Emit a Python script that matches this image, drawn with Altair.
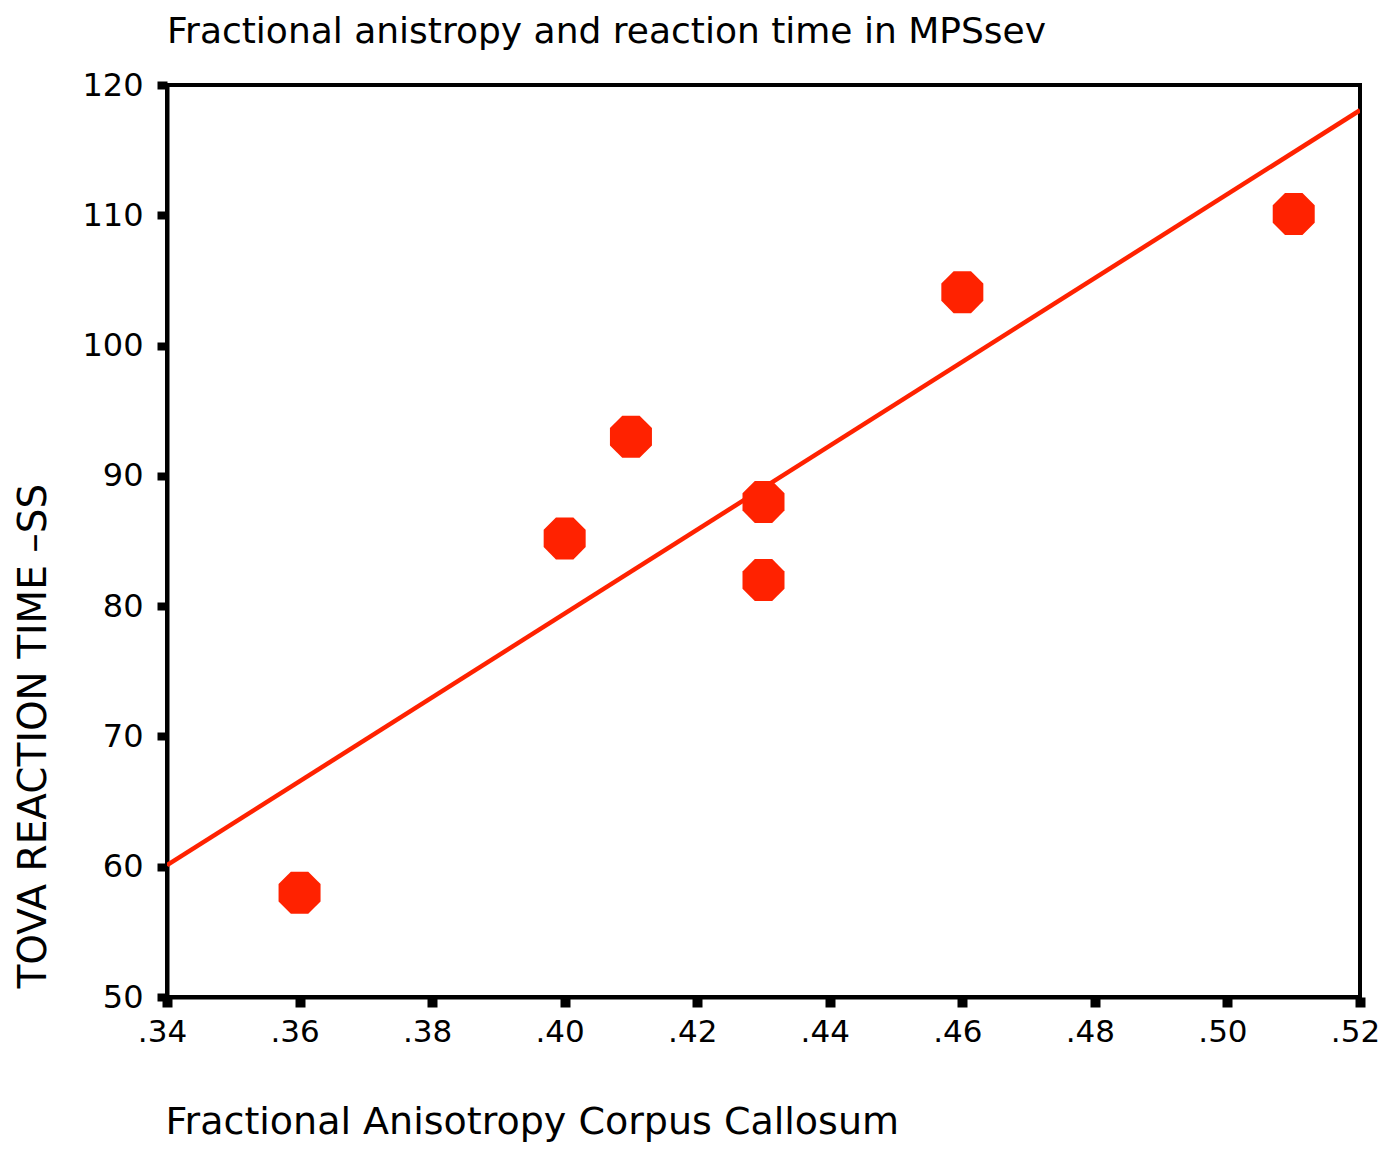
import altair as alt
import pandas as pd

fa = [0.36, 0.40, 0.41, 0.43, 0.43, 0.46, 0.51]
rt = [58.0, 85.2, 93.0, 88.0, 82.0, 104.1, 110.1]

x_ticks = [0.34, 0.36, 0.38, 0.40, 0.42, 0.44, 0.46, 0.48, 0.50, 0.52]
y_ticks = [50, 60, 70, 80, 90, 100, 110, 120]

df = pd.DataFrame({"fa": fa, "rt": rt})

RED = "#FF2200"
FONT = "DejaVu Sans"
OCT = "M -0.414 -1 L 0.414 -1 L 1 -0.414 L 1 0.414 L 0.414 1 L -0.414 1 L -1 0.414 L -1 -0.414 Z"

xscale = alt.Scale(domain=[0.34, 0.52], nice=False, zero=False)
yscale = alt.Scale(domain=[50, 120], nice=False, zero=False)

xaxis = alt.Axis(
    values=x_ticks,
    labelExpr="replace(format(datum.value, '.2f'), '0.', '.')",
    grid=False, domainColor="black", domainWidth=4, labelFlush=False,
    tickColor="black", tickSize=10, tickWidth=10,
    labelFont=FONT, labelFontSize=31, labelColor="black", labelPadding=10, labelOffset=-5,
    title="Fractional Anisotropy Corpus Callosum",
    titleFont=FONT, titleFontSize=38, titleFontWeight="normal", titleColor="black",
    titleAlign="left", titleBaseline="alphabetic", titleX=-2, titleY=136,
)
yaxis = alt.Axis(
    values=y_ticks, format="d",
    grid=False, domainColor="black", domainWidth=4, labelFlush=False,
    tickColor="black", tickSize=10, tickWidth=8,
    labelFont=FONT, labelFontSize=32, labelColor="black", labelPadding=14,
    title="TOVA REACTION TIME \u2013SS",
    titleFont=FONT, titleFontSize=39, titleFontWeight="normal", titleColor="black",
    titleAngle=-90, titleAlign="left", titleBaseline="alphabetic",
    titleX=-122, titleY=903,
)

base = alt.Chart(df)

points = base.mark_point(shape=OCT, filled=True, size=1764, color=RED, opacity=1, strokeWidth=0).encode(
    x=alt.X("fa:Q", scale=xscale, axis=xaxis),
    y=alt.Y("rt:Q", scale=yscale, axis=yaxis),
)

line = base.transform_regression("fa", "rt", extent=[0.34, 0.52]).mark_line(
    color=RED, strokeWidth=4.5, clip=True
).encode(
    x=alt.X("fa:Q", scale=xscale),
    y=alt.Y("rt:Q", scale=yscale),
)

chart = alt.layer(line, points).properties(
    width=1193, height=912,
    title=alt.TitleParams(
        "Fractional anistropy and reaction time in MPSsev",
        anchor="start", frame="group", font=FONT, fontSize=36, fontWeight="normal", color="black",
        baseline="alphabetic", offset=20, dy=30,
    ),
    autosize=alt.AutoSizeParams(type="none"),
    padding={"left": 159, "top": 77, "right": 22, "bottom": 150},
).configure_view(stroke="black", strokeWidth=4)

chart.save("out.html", embed_options={"renderer": "svg", "actions": False})
